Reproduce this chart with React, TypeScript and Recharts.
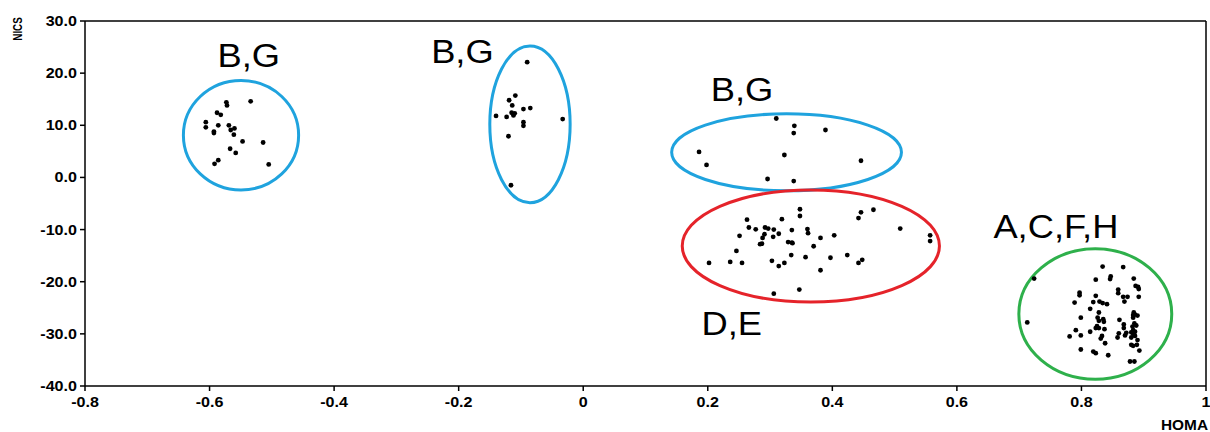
import {
  ScatterChart,
  Scatter,
  XAxis,
  YAxis,
  ReferenceArea,
  ReferenceDot,
  ReferenceLine,
} from "recharts";

// HOMA (x) vs NICS (y), one list per cluster
const clusterBG1 = [
  { x: -0.534, y: 14.6 }, { x: -0.573, y: 14.4 }, { x: -0.572, y: 13.8 },
  { x: -0.588, y: 12.4 }, { x: -0.582, y: 12.0 }, { x: -0.606, y: 10.6 },
  { x: -0.606, y: 9.6 }, { x: -0.586, y: 10.0 }, { x: -0.569, y: 10.0 },
  { x: -0.56, y: 9.4 }, { x: -0.566, y: 9.1 }, { x: -0.593, y: 8.8 },
  { x: -0.593, y: 8.5 }, { x: -0.561, y: 8.2 }, { x: -0.547, y: 6.9 },
  { x: -0.514, y: 6.7 }, { x: -0.567, y: 5.5 }, { x: -0.558, y: 4.7 },
  { x: -0.586, y: 3.3 }, { x: -0.592, y: 2.6 }, { x: -0.505, y: 2.5 },
];

const clusterBG2 = [
  { x: -0.09, y: 22.1 }, { x: -0.109, y: 15.7 }, { x: -0.119, y: 14.8 },
  { x: -0.114, y: 13.8 }, { x: -0.096, y: 13.1 }, { x: -0.085, y: 13.3 },
  { x: -0.115, y: 12.4 }, { x: -0.11, y: 12.3 }, { x: -0.112, y: 11.9 },
  { x: -0.14, y: 11.8 }, { x: -0.123, y: 11.6 }, { x: -0.096, y: 10.6 },
  { x: -0.096, y: 9.9 }, { x: -0.033, y: 11.2 }, { x: -0.12, y: 7.9 },
  { x: -0.116, y: -1.5 },
];

const clusterBG3 = [
  { x: 0.31, y: 11.3 }, { x: 0.339, y: 9.9 }, { x: 0.338, y: 8.5 },
  { x: 0.389, y: 9.1 }, { x: 0.186, y: 4.9 }, { x: 0.198, y: 2.4 },
  { x: 0.323, y: 4.3 }, { x: 0.446, y: 3.2 }, { x: 0.296, y: -0.3 },
  { x: 0.338, y: -0.7 },
];

const clusterDE = [
  { x: 0.348, y: -6.1 }, { x: 0.348, y: -7.4 }, { x: 0.446, y: -6.7 },
  { x: 0.442, y: -7.8 }, { x: 0.466, y: -6.2 }, { x: 0.263, y: -8.1 },
  { x: 0.319, y: -8.0 }, { x: 0.266, y: -9.6 }, { x: 0.277, y: -9.95 },
  { x: 0.292, y: -9.6 }, { x: 0.297, y: -9.8 }, { x: 0.306, y: -10.0 },
  { x: 0.335, y: -10.1 }, { x: 0.36, y: -9.9 }, { x: 0.361, y: -10.7 },
  { x: 0.509, y: -9.8 }, { x: 0.251, y: -11.2 }, { x: 0.291, y: -10.9 },
  { x: 0.288, y: -11.6 }, { x: 0.287, y: -12.7 }, { x: 0.284, y: -12.8 },
  { x: 0.305, y: -11.4 }, { x: 0.314, y: -10.8 }, { x: 0.381, y: -11.6 },
  { x: 0.403, y: -11.1 }, { x: 0.557, y: -11.1 }, { x: 0.557, y: -12.2 },
  { x: 0.329, y: -12.4 }, { x: 0.335, y: -12.5 }, { x: 0.336, y: -12.6 },
  { x: 0.37, y: -13.2 }, { x: 0.246, y: -14.1 }, { x: 0.334, y: -14.9 },
  { x: 0.357, y: -15.3 }, { x: 0.397, y: -15.4 }, { x: 0.424, y: -14.9 },
  { x: 0.202, y: -16.4 }, { x: 0.236, y: -16.2 }, { x: 0.255, y: -16.4 },
  { x: 0.303, y: -16.0 }, { x: 0.314, y: -17.0 }, { x: 0.323, y: -16.4 },
  { x: 0.448, y: -15.8 }, { x: 0.442, y: -16.4 }, { x: 0.381, y: -17.8 },
  { x: 0.347, y: -21.5 }, { x: 0.306, y: -22.3 },
];

const clusterACFH = [
  { x: 0.834, y: -17.1 }, { x: 0.867, y: -17.2 }, { x: 0.724, y: -19.4 },
  { x: 0.823, y: -19.6 }, { x: 0.847, y: -19.0 }, { x: 0.846, y: -19.5 },
  { x: 0.884, y: -19.4 }, { x: 0.887, y: -20.8 }, { x: 0.891, y: -21.0 },
  { x: 0.892, y: -21.4 }, { x: 0.859, y: -21.5 }, { x: 0.859, y: -22.2 },
  { x: 0.797, y: -22.1 }, { x: 0.797, y: -22.6 }, { x: 0.823, y: -22.7 },
  { x: 0.867, y: -22.9 }, { x: 0.874, y: -22.9 }, { x: 0.892, y: -22.9 },
  { x: 0.789, y: -24.0 }, { x: 0.819, y: -23.9 }, { x: 0.829, y: -23.8 },
  { x: 0.834, y: -24.1 }, { x: 0.841, y: -24.3 }, { x: 0.869, y: -23.8 },
  { x: 0.814, y: -25.2 }, { x: 0.828, y: -25.9 }, { x: 0.884, y: -25.9 },
  { x: 0.886, y: -26.3 }, { x: 0.883, y: -26.4 }, { x: 0.89, y: -26.5 },
  { x: 0.883, y: -26.9 }, { x: 0.799, y: -26.9 }, { x: 0.826, y: -26.9 },
  { x: 0.828, y: -27.5 }, { x: 0.835, y: -27.2 }, { x: 0.836, y: -27.7 },
  { x: 0.713, y: -27.8 }, { x: 0.861, y: -27.3 }, { x: 0.868, y: -28.2 },
  { x: 0.868, y: -28.9 }, { x: 0.885, y: -28.0 }, { x: 0.888, y: -28.4 },
  { x: 0.882, y: -28.6 }, { x: 0.825, y: -28.5 }, { x: 0.823, y: -28.9 },
  { x: 0.828, y: -28.9 }, { x: 0.837, y: -29.1 }, { x: 0.791, y: -29.3 },
  { x: 0.814, y: -29.6 }, { x: 0.883, y: -29.3 }, { x: 0.886, y: -29.6 },
  { x: 0.88, y: -29.7 }, { x: 0.883, y: -30.0 }, { x: 0.886, y: -30.4 },
  { x: 0.88, y: -30.7 }, { x: 0.86, y: -29.9 }, { x: 0.858, y: -30.7 },
  { x: 0.872, y: -29.8 }, { x: 0.87, y: -30.3 }, { x: 0.799, y: -30.3 },
  { x: 0.781, y: -30.5 }, { x: 0.833, y: -30.4 }, { x: 0.831, y: -30.9 },
  { x: 0.89, y: -31.2 }, { x: 0.889, y: -32.1 }, { x: 0.838, y: -31.8 },
  { x: 0.88, y: -32.1 }, { x: 0.883, y: -32.3 }, { x: 0.893, y: -33.2 },
  { x: 0.799, y: -33.0 }, { x: 0.819, y: -33.4 }, { x: 0.823, y: -33.7 },
  { x: 0.843, y: -34.1 }, { x: 0.878, y: -35.3 }, { x: 0.885, y: -35.3 },
];

const xTicks = [-0.8, -0.6, -0.4, -0.2, 0, 0.2, 0.4, 0.6, 0.8, 1];
const yTicks = [-40, -30, -20, -10, 0, 10, 20, 30];

// cluster outlines: [x1, x2, y1, y2, colour]
const outlines: [number, number, number, number, string][] = [
  [-0.642, -0.457, -2.4, 18.6, "#1fa3de"],
  [-0.15, -0.021, -4.85, 25.2, "#1fa3de"],
  [0.142, 0.511, -2.55, 12.2, "#1fa3de"],
  [0.159, 0.572, -23.9, -2.4, "#e5232a"],
  [0.6995, 0.945, -38.7, -13.7, "#2eb04b"],
];

// group labels: [x, y, text]
const groupLabels: [number, number, string][] = [
  [-0.537, 21.1, "B,G"],
  [-0.194, 21.9, "B,G"],
  [0.255, 14.66, "B,G"],
  [0.2385, -30.2, "D,E"],
  [0.759, -11.7, "A,C,F,H"],
];

const font = "Arial, 'Liberation Sans', sans-serif";

const Dot = (p: any) => <circle cx={p.cx} cy={p.cy} r={2.4} fill="#000" />;

const XTick = (p: any) => {
  const v = p.payload.value;
  const s = v === 0 || v === 1 ? String(v) : v.toFixed(1);
  return (
    <text
      transform={`translate(${p.x},${p.y + 14}) scale(1.15,1)`}
      textAnchor="middle"
      fontFamily={font}
      fontWeight="bold"
      fontSize={14}
      fill="#000"
    >
      {s}
    </text>
  );
};

const YTick = (p: any) => (
  <text
    transform={`translate(${p.x - 1},${p.y + 5}) scale(1.15,1)`}
    textAnchor="end"
    fontFamily={font}
    fontWeight="bold"
    fontSize={14}
    fill="#000"
  >
    {p.payload.value.toFixed(1)}
  </text>
);

const App = () => {
  const series = [clusterBG1, clusterBG2, clusterBG3, clusterDE, clusterACFH];
  return (
    <div style={{ position: "relative", width: 1210, height: 432 }}>
      <style>{"body{margin:0}"}</style>
      <ScatterChart
        width={1210}
        height={432}
        margin={{ top: 21, right: 4, bottom: 0, left: 0 }}
      >
        <XAxis
          type="number"
          dataKey="x"
          domain={[-0.8, 1]}
          ticks={xTicks}
          interval={0}
          allowDataOverflow
          axisLine={{ stroke: "#000", strokeWidth: 1.5 }}
          tickLine={{ stroke: "#000", strokeWidth: 1.5 }}
          tickSize={5}
          tick={<XTick />}
          height={46}
        />
        <YAxis
          type="number"
          dataKey="y"
          domain={[-40, 30]}
          ticks={yTicks}
          interval={0}
          allowDataOverflow
          axisLine={{ stroke: "#000", strokeWidth: 1.5 }}
          tickLine={{ stroke: "#000", strokeWidth: 1.5 }}
          tickSize={5}
          tick={<YTick />}
          width={85}
        />
        <ReferenceLine y={30} stroke="#000" strokeWidth={1.5} />
        <ReferenceLine x={1} stroke="#000" strokeWidth={1.5} />
        {outlines.map(([x1, x2, y1, y2, c], i) => (
          <ReferenceArea
            key={"o" + i}
            x1={x1}
            x2={x2}
            y1={y1}
            y2={y2}
            shape={(p: any) => (
              <ellipse
                cx={p.x + p.width / 2}
                cy={p.y + p.height / 2}
                rx={Math.abs(p.width) / 2}
                ry={Math.abs(p.height) / 2}
                fill="none"
                stroke={c}
                strokeWidth={3}
              />
            )}
          />
        ))}
        {series.map((d, i) => (
          <Scatter
            key={"s" + i}
            data={d}
            shape={Dot}
            isAnimationActive={false}
          />
        ))}
        {groupLabels.map(([x, y, t], i) => (
          <ReferenceDot
            key={"l" + i}
            x={x}
            y={y}
            shape={(p: any) => (
              <text
                transform={`translate(${p.cx},${p.cy}) scale(1.1,1)`}
                textAnchor="middle"
                fontFamily={font}
                fontSize={33}
                fill="#000"
              >
                {t}
              </text>
            )}
          />
        ))}
      </ScatterChart>
      <svg
        width={1210}
        height={432}
        style={{ position: "absolute", left: 0, top: 0, pointerEvents: "none" }}
      >
        <text
          transform="translate(21.5,29) rotate(-90) scale(0.85,1.15)"
          textAnchor="middle"
          fontFamily={font}
          fontWeight="bold"
          fontSize={11.5}
          fill="#000"
        >
          NICS
        </text>
        <text
          transform="translate(1208,430) scale(1.1,1)"
          textAnchor="end"
          fontFamily={font}
          fontWeight="bold"
          fontSize={14}
          fill="#000"
        >
          HOMA
        </text>
      </svg>
    </div>
  );
};

export default App;
